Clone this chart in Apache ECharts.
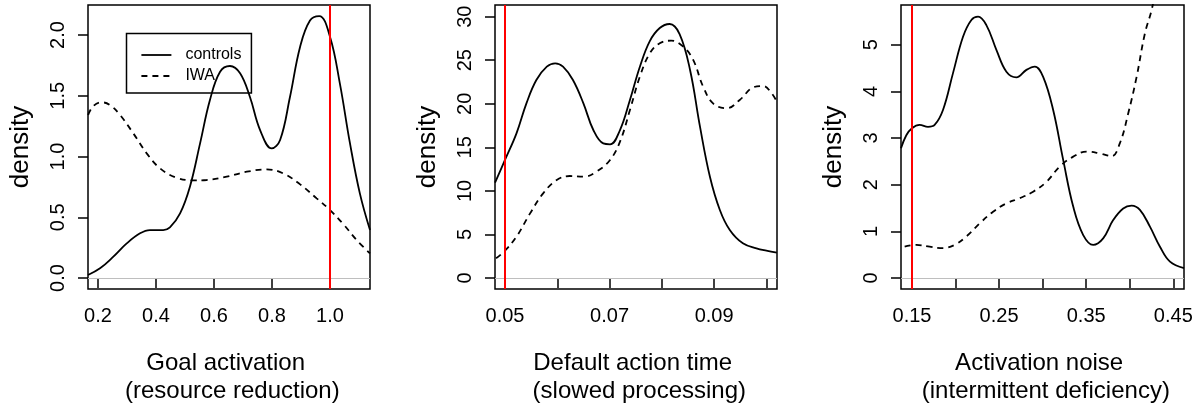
<!DOCTYPE html>
<html>
<head>
<meta charset="utf-8">
<script src="https://cdn.jsdelivr.net/npm/echarts@6/dist/echarts.min.js"></script>
<style>
html,body{margin:0;padding:0;background:#fff;}
#chart{width:1199px;height:407px;}
</style>
</head>
<body>
<div id="chart"></div>
<script>
// ---- Panel 1: Goal activation ----
var goalCtrlX = [0.1655,0.207,0.253,0.299,0.345,0.379,0.425,0.448,0.483,0.517,0.552,0.586,0.621,0.655,0.690,0.724,0.759,0.799,0.828,0.862,0.897,0.931,0.963,1.000,1.034,1.069,1.103,1.138];
var goalCtrlY = [0.025,0.08,0.176,0.285,0.368,0.395,0.395,0.417,0.532,0.752,1.108,1.465,1.698,1.745,1.685,1.49,1.218,1.067,1.136,1.49,1.904,2.12,2.156,1.986,1.602,1.108,0.697,0.395];
var goalIwaX = [0.166,0.184,0.213,0.241,0.276,0.322,0.368,0.414,0.471,0.529,0.575,0.644,0.713,0.782,0.839,0.897,0.954,1.000,1.046,1.092,1.138];
var goalIwaY = [1.342,1.416,1.446,1.424,1.342,1.19,1.026,0.903,0.826,0.804,0.807,0.834,0.875,0.894,0.861,0.771,0.656,0.56,0.444,0.313,0.203];
var goalXTicks = [0.2,0.4,0.6,0.8,1.0];
var goalYTicks = [0,0.5,1,1.5,2];
var goalRef = 1.0;

// ---- Panel 2: Default action time ----
var datCtrlX = [0.0481,0.0500,0.0522,0.0541,0.0560,0.0580,0.0596,0.0611,0.0630,0.0650,0.0669,0.0688,0.0701,0.0720,0.0739,0.0758,0.0777,0.0796,0.0815,0.0834,0.0854,0.0873,0.0892,0.0911,0.0930,0.0955,0.0981,0.1000,0.1020];
var datCtrlY = [10.94,13.55,16.6,20.05,22.73,24.26,24.65,24.26,22.73,20.05,16.99,15.45,15.35,16.99,20.44,24.26,27.2,28.7,29.16,28.0,23.88,17.37,11.63,7.81,5.51,3.98,3.41,3.14,2.91];
var datIwaX = [0.0483,0.0500,0.0522,0.0548,0.0573,0.0599,0.0624,0.0650,0.0675,0.0701,0.0720,0.0739,0.0758,0.0777,0.0796,0.0818,0.0841,0.0860,0.0879,0.0898,0.0924,0.0949,0.0975,0.0994,0.1010,0.1020];
var datIwaY = [2.26,3.14,4.75,7.42,9.72,11.25,11.71,11.63,12.21,13.55,15.65,19.29,23.12,25.79,26.94,27.25,26.56,25.03,21.97,20.05,19.48,20.44,21.89,22.04,21.2,20.24];
var datXTicks = [0.05,0.06,0.07,0.08,0.09,0.10];
var datXLabels = [0.05,0.07,0.09];
var datYTicks = [0,5,10,15,20,25,30];
var datRef = 0.05;

// ---- Panel 3: Activation noise ----
var noiseCtrlX = [0.1374,0.1435,0.1500,0.1588,0.1684,0.1760,0.1856,0.1971,0.2086,0.2182,0.2259,0.2354,0.2469,0.2584,0.2699,0.2814,0.2910,0.3006,0.3121,0.3236,0.3351,0.3466,0.3580,0.3695,0.3810,0.3925,0.4021,0.4117,0.4232,0.4347,0.4462,0.4623];
var noiseCtrlY = [2.78,3.06,3.21,3.28,3.24,3.28,3.6,4.39,5.17,5.53,5.6,5.42,4.89,4.42,4.3,4.46,4.53,4.31,3.6,2.53,1.53,0.92,0.71,0.85,1.24,1.49,1.55,1.46,1.1,0.67,0.35,0.21];
var noiseIwaX = [0.1416,0.1550,0.1703,0.1856,0.1990,0.2125,0.2278,0.2431,0.2584,0.2738,0.2891,0.3044,0.3197,0.3351,0.3504,0.3657,0.3791,0.3887,0.3983,0.4079,0.4174,0.4251,0.4300];
var noiseIwaY = [0.67,0.71,0.67,0.64,0.71,0.89,1.17,1.42,1.6,1.71,1.85,2.06,2.39,2.6,2.71,2.67,2.61,2.89,3.53,4.31,5.24,5.74,6.2];
var noiseXTicks = [0.15,0.20,0.25,0.30,0.35,0.40,0.45];
var noiseXLabels = [0.15,0.25,0.35,0.45];
var noiseYTicks = [0,1,2,3,4,5];
var noiseRef = 0.15;

var seriesNames = ['controls','IWA'];
var xTitles = ['Goal activation \n (resource reduction)','Default action time \n (slowed processing)','Activation noise \n (intermittent deficiency)'];
var yTitle = 'density';

function pairs(xs, ys){ return xs.map(function(x,i){ return [x, ys[i]]; }); }

var FONT = '"Liberation Sans", Arial, Helvetica, sans-serif';
var grids = [
  {left:88, top:5, width:282, height:284},
  {left:495, top:5, width:282, height:284},
  {left:901, top:5, width:283, height:284}
].map(function(g){ return Object.assign({show:true, borderColor:'#000', borderWidth:1.5, backgroundColor:'transparent', containLabel:false, outerBoundsMode:'none'}, g); });

function xAxis(idx, min, max, ticks, labels, dec){
  return {
    type:'value', gridIndex:idx, min:min, max:max,
    name:xTitles[idx], nameLocation:'middle', nameGap:60,
    nameTextStyle:{fontFamily:FONT, fontSize:24, lineHeight:28.5, color:'#000', align:'center'},
    axisLine:{show:false},
    axisTick:{show:true, inside:false, length:10, customValues:ticks, lineStyle:{color:'#000', width:1.5}},
    axisLabel:{show:true, customValues:labels, margin:17, fontFamily:FONT, fontSize:20, color:'#000',
      formatter:function(v){ return Number(v).toFixed(dec); }},
    splitLine:{show:false}
  };
}
function yAxis(idx, min, max, ticks, dec){
  return {
    type:'value', gridIndex:idx, min:min, max:max,
    name:yTitle, nameLocation:'middle', nameRotate:90, nameGap:52,
    nameTextStyle:{fontFamily:FONT, fontSize:26, lineHeight:30, color:'#000'},
    axisLine:{show:false},
    axisTick:{show:true, inside:false, length:10, customValues:ticks, lineStyle:{color:'#000', width:1.5}},
    axisLabel:{show:true, customValues:ticks, rotate:90, margin:20, fontFamily:FONT, fontSize:20, color:'#000',
      formatter:function(v){ return Number(v).toFixed(dec); }},
    splitLine:{show:false}
  };
}

function refLines(xRef){
  return {
    silent:true, symbol:'none', animation:false,
    label:{show:false},
    data:[
      {yAxis:0, lineStyle:{color:'#bebebe', width:1, type:'solid'}},
      {xAxis:xRef, lineStyle:{color:'#ff0000', width:2, type:'solid'}}
    ]
  };
}

function curve(idx, name, data, dashed, ref){
  var s = {
    type:'line', name:name, xAxisIndex:idx, yAxisIndex:idx, data:data,
    showSymbol:false, symbol:'none', smooth:0.4, clip:true,
    lineStyle:{color:'#000', width:1.8, type: dashed ? [6,5] : 'solid'},
    itemStyle:{color:'#000'},
    z:3
  };
  if (ref !== undefined) s.markLine = refLines(ref);
  return s;
}

var option = {
  animation:false,
  backgroundColor:'#fff',
  grid:grids,
  legend:{
    show:true, data:seriesNames, orient:'vertical',
    left:126.5, top:33.5,
    padding:[13.5,10,9,14],
    itemWidth:30, itemHeight:14, itemGap:5,
    borderColor:'#000', borderWidth:1.5,
    backgroundColor:'transparent',
    itemStyle:{color:'rgba(0,0,0,0)', borderColor:'rgba(0,0,0,0)', borderWidth:0, opacity:0},
    lineStyle:{color:'#000', width:1.8, opacity:1},
    textStyle:{fontFamily:FONT, fontSize:16, color:'#000', lineHeight:14, padding:[0,0,0,9]},
    selectedMode:false
  },
  xAxis:[
    xAxis(0, 0.1655, 1.138, goalXTicks, goalXTicks, 1),
    xAxis(1, 0.04809, 0.10203, datXTicks, datXLabels, 2),
    xAxis(2, 0.1374, 0.4623, noiseXTicks, noiseXLabels, 2)
  ],
  yAxis:[
    yAxis(0, -0.09, 2.247, goalYTicks, 1),
    yAxis(1, -1.26, 31.34, datYTicks, 0),
    yAxis(2, -0.236, 5.85, noiseYTicks, 0)
  ],
  series:[
    curve(0, seriesNames[0], pairs(goalCtrlX, goalCtrlY), false, goalRef),
    curve(0, seriesNames[1], pairs(goalIwaX, goalIwaY), true),
    curve(1, seriesNames[0], pairs(datCtrlX, datCtrlY), false, datRef),
    curve(1, seriesNames[1], pairs(datIwaX, datIwaY), true),
    curve(2, seriesNames[0], pairs(noiseCtrlX, noiseCtrlY), false, noiseRef),
    curve(2, seriesNames[1], pairs(noiseIwaX, noiseIwaY), true)
  ]
};

var chart = echarts.init(document.getElementById('chart'), null, {renderer:'canvas'});
chart.setOption(option);
</script>
</body>
</html>
